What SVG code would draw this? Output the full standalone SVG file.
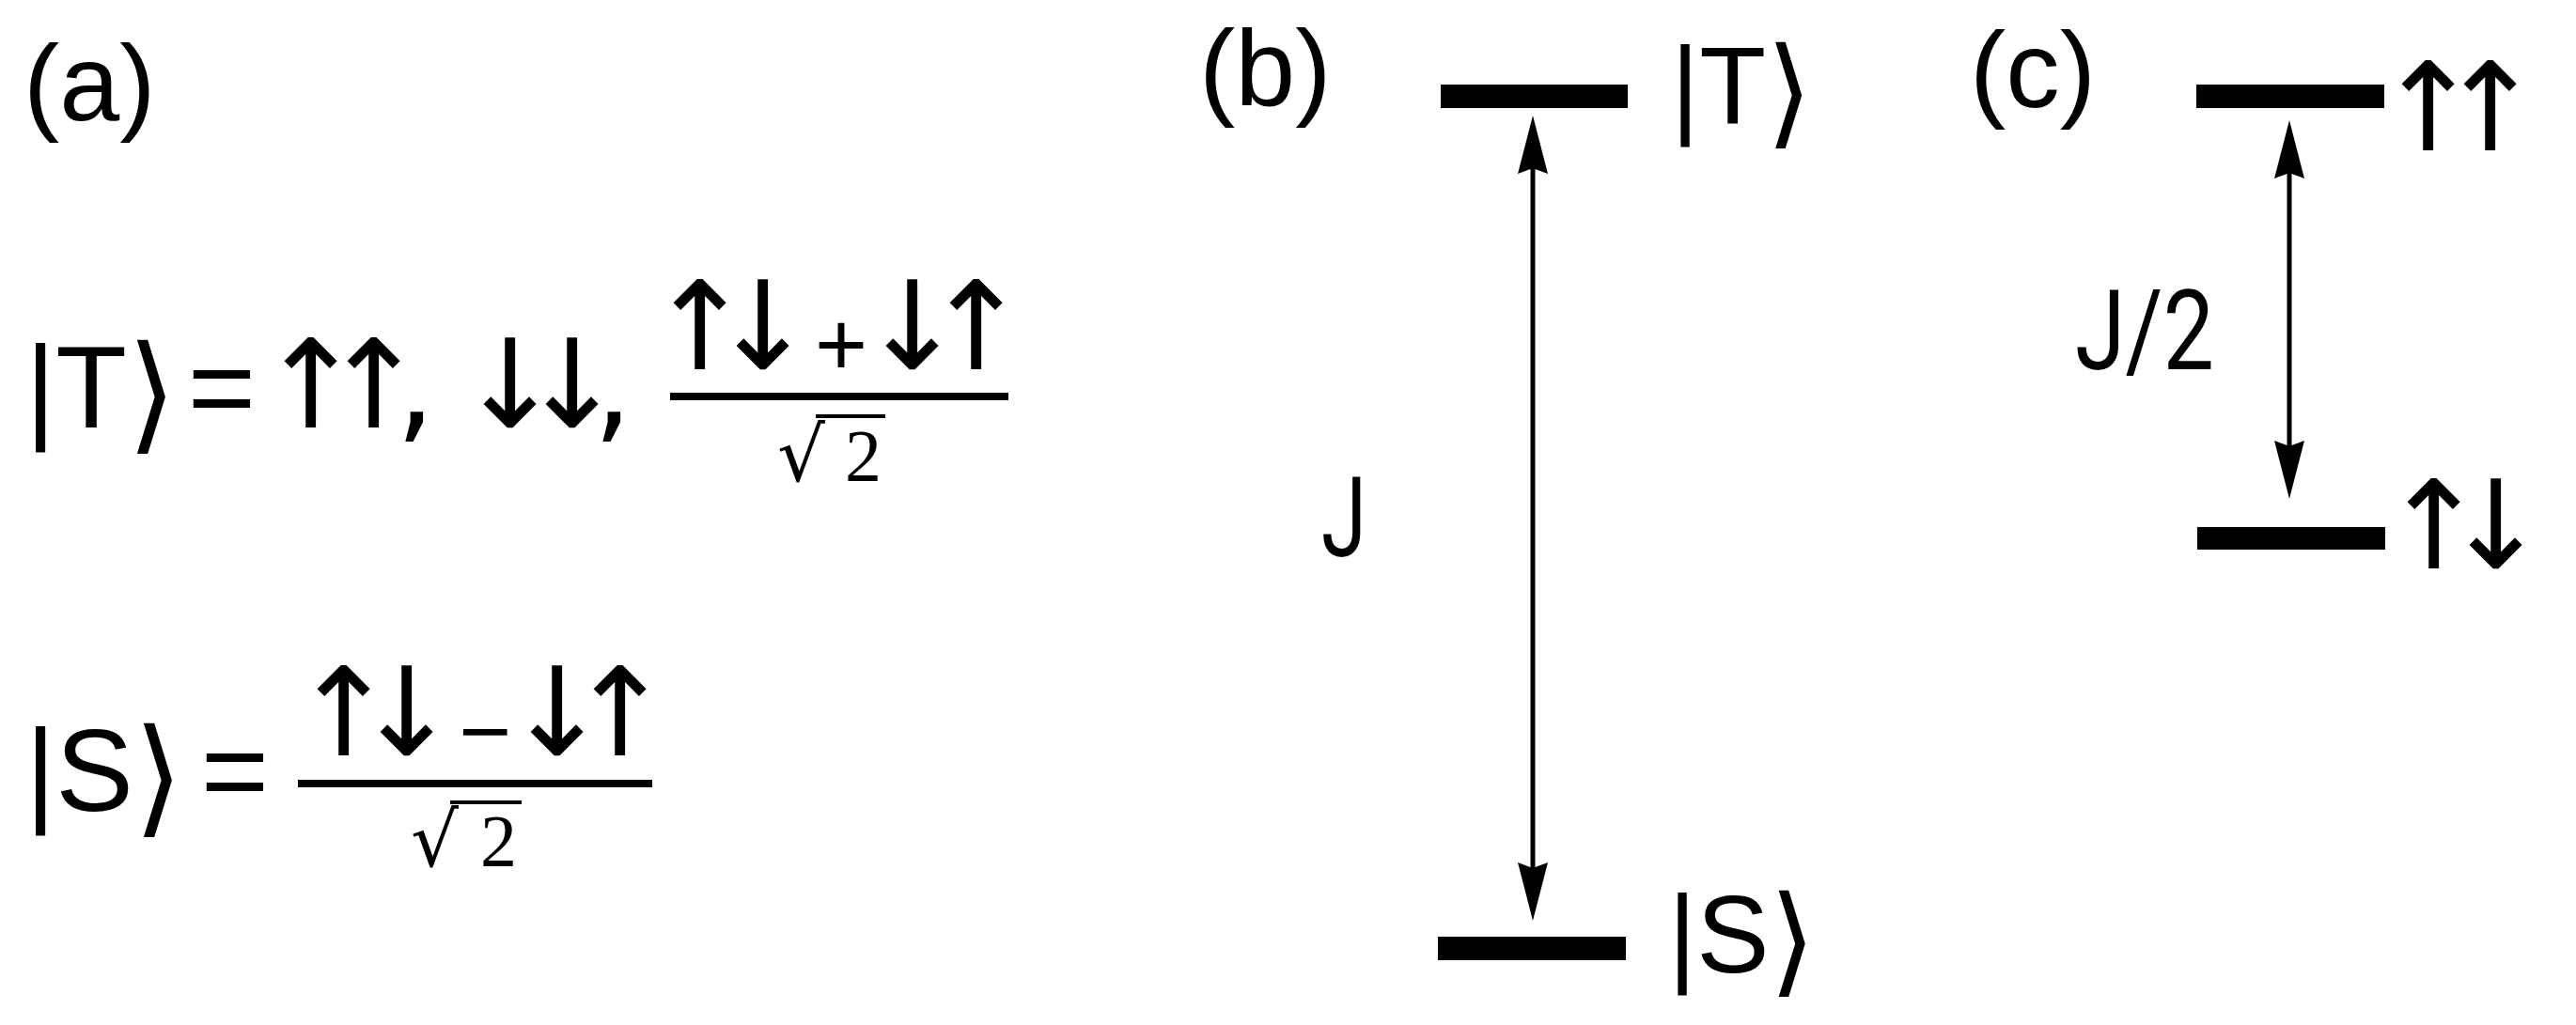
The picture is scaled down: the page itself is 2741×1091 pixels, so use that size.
<svg xmlns="http://www.w3.org/2000/svg" width="2741" height="1091" viewBox="0 0 2741 1091">
<style>
  .t { font-family: "Liberation Sans", Arial, "DejaVu Sans", sans-serif; fill: #000; }
  .big { font-size: 124px; }
  .mid { font-size: 116px; }
  .jj { font-family: Roboto, "Liberation Sans", sans-serif; font-size: 118px; fill: #000; }
  .ar { font-family: "DejaVu Sans", sans-serif; font-size: 131px; text-anchor: middle; fill: #000; }
  .op { font-family: "Liberation Sans", sans-serif; font-size: 96px; text-anchor: middle; letter-spacing: -8px; fill: #000; }
  .ser { font-family: "Liberation Serif", "DejaVu Serif", serif; font-size: 78px; fill: #000; }
  .rad { font-family: "DejaVu Sans", sans-serif; font-size: 80px; fill: #000; }
  .bar { fill: #000; }
  .frac { stroke: #000; stroke-width: 8; }
  .vinc { stroke: #000; stroke-width: 4; }
  .conn { stroke: #000; stroke-width: 5; fill: none; }
</style>
<defs>
  <marker id="head" viewBox="-70 -20 80 40" markerUnits="userSpaceOnUse" markerWidth="80" markerHeight="40" refX="-20" refY="0" orient="auto-start-reverse">
    <path d="M0,0 L-62,-16 L-56,0 L-62,16 Z" fill="#000"/>
  </marker>
</defs>
<rect width="2741" height="1091" fill="#fff"/>

<g id="panel-a">
  <text class="t" x="25" y="128" font-size="115">(a)</text>
  <g id="triplet-eq">
    <text class="t big" x="27" y="455">|T<tspan font-size="136" dy="10">⟩</tspan></text>
    <text class="t big" x="236" y="455" text-anchor="middle">=</text>
    <text class="ar" x="331 398 442 543 609 652" y="455">↑↑,↓↓,</text>
    <text class="ar" x="745 812" y="393">↑↓</text>
    <text class="op" x="891" y="400">+</text>
    <text class="ar" x="971 1039" y="393">↓↑</text>
    <line class="frac" x1="713" y1="422" x2="1073" y2="422"/>
    <text class="rad" x="878" y="512" text-anchor="end">√</text>
    <text class="ser" x="899" y="511">2</text>
    <line class="vinc" x1="868" y1="443" x2="942" y2="443"/>
  </g>
  <g id="singlet-eq">
    <text class="t big" x="27" y="863">|S<tspan font-size="136" dy="10">⟩</tspan></text>
    <text class="t big" x="250" y="863" text-anchor="middle">=</text>
    <text class="ar" x="366 433" y="804">↑↓</text>
    <text class="op" x="512" y="811">−</text>
    <text class="ar" x="593 660" y="804">↓↑</text>
    <line class="frac" x1="317" y1="834" x2="694" y2="834"/>
    <text class="rad" x="488" y="922" text-anchor="end">√</text>
    <text class="ser" x="511" y="921">2</text>
    <line class="vinc" x1="479" y1="854" x2="555" y2="854"/>
  </g>
</g>

<g id="panel-b">
  <text class="t" x="1276" y="112" font-size="115">(b)</text>
  <g id="level-T">
    <rect class="bar" x="1533" y="90" width="199" height="25"/>
    <text class="t mid" x="1778" y="132">|T<tspan font-size="127" dy="9">⟩</tspan></text>
  </g>
  <g id="level-S">
    <rect class="bar" x="1530" y="997" width="200" height="25"/>
    <text class="t mid" x="1775" y="1035">|S<tspan font-size="127" dy="9">⟩</tspan></text>
  </g>
  <text class="jj" x="1406" y="592" textLength="48" lengthAdjust="spacingAndGlyphs">J</text>
</g>

<g id="panel-c">
  <text class="t" x="2096" y="114" font-size="115">(c)</text>
  <g id="level-upup">
    <rect class="bar" x="2337" y="90" width="200" height="25"/>
    <text class="ar" x="2584 2650" y="160">↑↑</text>
  </g>
  <g id="level-updown">
    <rect class="bar" x="2338" y="561" width="200" height="24"/>
    <text class="ar" x="2590 2656" y="605">↑↓</text>
  </g>
  <text class="jj" x="2208" y="393" textLength="148" lengthAdjust="spacingAndGlyphs">J/2</text>
</g>

<g id="connectors">
  <line class="conn" x1="1631" y1="143" x2="1631" y2="960" marker-start="url(#head)" marker-end="url(#head)"/>
  <line class="conn" x1="2436" y1="148" x2="2436" y2="511" marker-start="url(#head)" marker-end="url(#head)"/>
</g>
</svg>
